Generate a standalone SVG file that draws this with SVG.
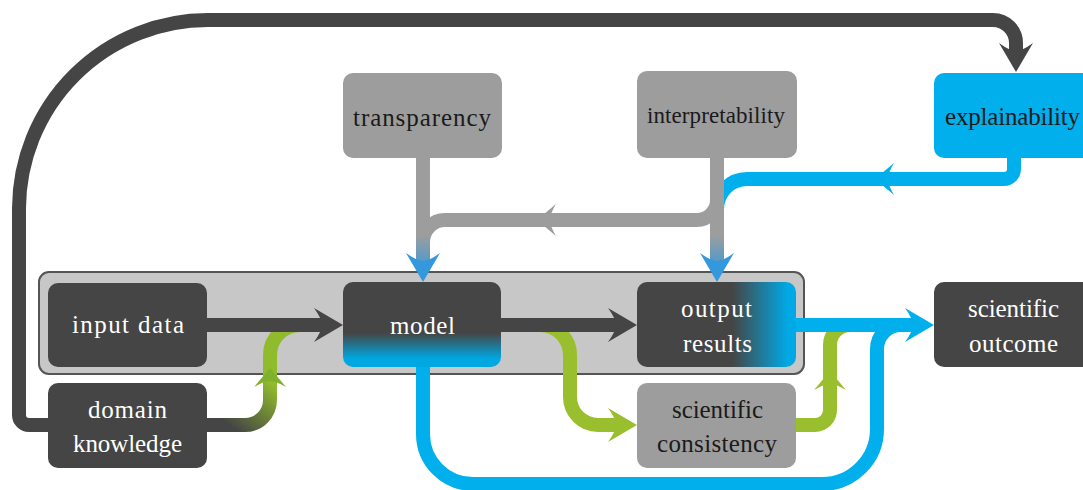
<svg xmlns="http://www.w3.org/2000/svg" xmlns:xlink="http://www.w3.org/1999/xlink" width="1083" height="490" viewBox="0 0 1083 490">
  <style>
    .ln { fill: none; stroke-width: 14; stroke-linecap: butt; stroke-linejoin: round; }
    .dk { stroke: #454545; }
    .gr { stroke: #9d9d9d; }
    .bl { stroke: #00afec; }
    .gn { stroke: #9abf2e; }
    .t { font-family: 'Liberation Serif', 'Times New Roman', Times, 'DejaVu Serif', serif; font-size: 25px; text-anchor: middle; }
    .tw { fill: #ffffff; }
    .tb { fill: #1a1a1a; }
  </style>
  <defs>
    <path id="endArrow" d="M0,0 L-29,-17 Q-21,-6 -21,0 Q-21,6 -29,17 Z"/>
    <path id="midArrow" d="M0,0 L-19,-16 Q-13,-6 -13,0 Q-13,6 -19,16 Z"/>
    <linearGradient id="fadeV" gradientUnits="userSpaceOnUse" x1="0" y1="235" x2="0" y2="274">
      <stop offset="0" stop-color="#9d9d9d"/>
      <stop offset="1" stop-color="#3399dc"/>
    </linearGradient>
    <linearGradient id="fadeGreen" gradientUnits="userSpaceOnUse" x1="238" y1="432" x2="274" y2="386">
      <stop offset="0" stop-color="#454545"/>
      <stop offset="1" stop-color="#8fbb2d"/>
    </linearGradient>
    <linearGradient id="modelFill" x1="0" y1="0" x2="0" y2="1">
      <stop offset="0.6" stop-color="#454545"/>
      <stop offset="0.9" stop-color="#00a7e1"/>
    </linearGradient>
    <linearGradient id="outFill" x1="0" y1="0" x2="1" y2="0">
      <stop offset="0.6" stop-color="#454545"/>
      <stop offset="0.95" stop-color="#00a9e5"/>
    </linearGradient>
  </defs>

  <rect x="0" y="0" width="1083" height="490" fill="#ffffff"/>

  <g id="pipeline-box">
    <rect x="39" y="272" width="765" height="102" rx="10" fill="#c7c7c7" stroke="#555555" stroke-width="2"/>
  </g>

  <g id="connectors">
    <!-- explainability -> output results (under the gray line) -->
    <path class="ln bl" d="M1014 157 V169 A10 10 0 0 1 1004 179 H747 A30 30 0 0 0 717 209 V262"/>
    <use xlink:href="#midArrow" transform="translate(875,179) rotate(180)" fill="#00afec"/>
    <!-- interpretability -> transparency branch -->
    <path class="ln" stroke="url(#fadeV)" d="M717 190 V200 A20 20 0 0 1 697 220 H445 A22 22 0 0 0 423 242 V270"/>
    <use xlink:href="#midArrow" transform="translate(537,220) rotate(180)" fill="#9d9d9d"/>
    <!-- transparency -> model -->
    <path class="ln" stroke="url(#fadeV)" d="M423 157 V270"/>
    <use xlink:href="#endArrow" transform="translate(423,282) rotate(90)" fill="#3399dc"/>
    <!-- interpretability -> output results -->
    <path class="ln" stroke="url(#fadeV)" d="M717 157 V270"/>
    <use xlink:href="#endArrow" transform="translate(717,282) rotate(90)" fill="#3399dc"/>

    <!-- domain knowledge loop -> explainability -->
    <path class="ln dk" d="M50 425 H29 A10 10 0 0 1 19 415 V208 A189 189 0 0 1 208 20 H993 A23 23 0 0 1 1016 43 V60"/>
    <use xlink:href="#endArrow" transform="translate(1016,72) rotate(90)" fill="#454545"/>

    <!-- domain knowledge -> model (green) -->
    <path class="ln" stroke="url(#fadeGreen)" d="M205 425 H245 A25 25 0 0 0 270 400 V355 A30 30 0 0 1 300 325 H318"/>
    <use xlink:href="#midArrow" transform="translate(270,368) rotate(-90)" fill="#80b12d"/>

    <!-- model -> scientific consistency (green) -->
    <path class="ln gn" d="M540 325 A30 30 0 0 1 570 355 V397 A28 28 0 0 0 598 425 H625"/>
    <use xlink:href="#endArrow" transform="translate(637,425)" fill="#9abf2e"/>

    <!-- input data -> model -->
    <path class="ln dk" d="M205 325 H331"/>
    <use xlink:href="#endArrow" transform="translate(343,325)" fill="#454545"/>
    <!-- model -> output results -->
    <path class="ln dk" d="M499 325 H625"/>
    <use xlink:href="#endArrow" transform="translate(637,325)" fill="#454545"/>

    <!-- scientific consistency -> scientific outcome (green) -->
    <path class="ln gn" d="M794 425 H815 A15 15 0 0 0 830 410 V345 A20 20 0 0 1 850 325 H870"/>
    <use xlink:href="#midArrow" transform="translate(830,371) rotate(-90)" fill="#9abf2e"/>

    <!-- model -> scientific outcome (blue loop) -->
    <path class="ln bl" d="M423 365 V434 A50 50 0 0 0 473 484 H822 A55 55 0 0 0 877 429 V349 A24 24 0 0 1 901 325 H922"/>
    <!-- output results -> scientific outcome -->
    <path class="ln bl" d="M794 325 H922"/>
    <use xlink:href="#endArrow" transform="translate(934,325)" fill="#00afec"/>
  </g>

  <g id="node-transparency">
    <rect x="343" y="73" width="159" height="85" rx="10" fill="#9d9d9d"/>
    <text class="t tb" x="422" y="126" textLength="138">transparency</text>
  </g>
  <g id="node-interpretability">
    <rect x="637" y="71" width="160" height="87" rx="10" fill="#9d9d9d"/>
    <text class="t tb" x="716" y="123" style="font-size:23px" textLength="138">interpretability</text>
  </g>
  <g id="node-explainability">
    <rect x="934" y="73" width="170" height="85" rx="10" fill="#00afec"/>
    <text class="t tb" x="1012.5" y="125" textLength="135">explainability</text>
  </g>
  <g id="node-input-data">
    <rect x="48" y="283" width="159" height="84" rx="10" fill="#454545"/>
    <text class="t tw" x="128" y="333" textLength="112">input data</text>
  </g>
  <g id="node-model">
    <rect x="343" y="282" width="158" height="85" rx="10" fill="url(#modelFill)"/>
    <text class="t tw" x="422.5" y="334" textLength="65">model</text>
  </g>
  <g id="node-output-results">
    <rect x="637" y="282" width="159" height="85" rx="10" fill="url(#outFill)"/>
    <text class="t tw" x="716.5" y="317" textLength="71">output</text>
    <text class="t tw" x="717.5" y="352" textLength="69">results</text>
  </g>
  <g id="node-scientific-outcome">
    <rect x="934" y="282" width="170" height="85" rx="10" fill="#454545"/>
    <text class="t tw" x="1013.5" y="317" textLength="91">scientific</text>
    <text class="t tw" x="1013.5" y="352" textLength="89">outcome</text>
  </g>
  <g id="node-domain-knowledge">
    <rect x="48" y="383" width="159" height="85" rx="10" fill="#454545"/>
    <text class="t tw" x="127.5" y="418" textLength="79">domain</text>
    <text class="t tw" x="127.5" y="452" textLength="109">knowledge</text>
  </g>
  <g id="node-scientific-consistency">
    <rect x="637" y="383" width="159" height="85" rx="10" fill="#9d9d9d"/>
    <text class="t tb" x="717.5" y="418" textLength="91">scientific</text>
    <text class="t tb" x="717" y="452" textLength="120">consistency</text>
  </g>
</svg>
